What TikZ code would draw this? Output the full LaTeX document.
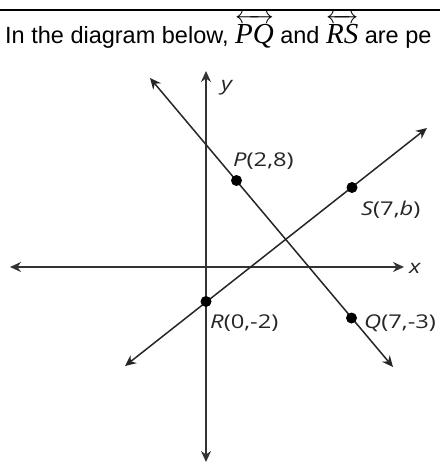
\documentclass[tikz,border=0pt]{standalone}
\usepackage{amsmath}
\usepackage{fontspec}
\usepackage{tikz}
\usetikzlibrary{arrows.meta, positioning, calc}
\newfontfamily\headfont{Liberation Sans}
\newfontfamily\serifit{Liberation Serif}
\newfontfamily\lblfont[FakeStretch=1.25]{Open Sans}
\newcommand{\lineof}[1]{$\overleftrightarrow{\text{\serifit\itshape\fontsize{29}{30}\selectfont #1}}$}

\begin{document}
\begin{tikzpicture}[x=1pt, y=-1pt,
  axisline/.style={draw=black!80, line width=1.7pt, {Stealth[length=11pt, width=10pt]}-{Stealth[length=11pt, width=10pt]}},
  ptline/.style={draw=black!85, line width=1.5pt, {Stealth[length=11pt, width=10pt]}-{Stealth[length=11pt, width=10pt]}},
  dot/.style={circle, fill=black, inner sep=0pt, minimum size=11pt},
  lbl/.style={font=\lblfont\fontsize{19}{22}\selectfont, text=black!85, inner sep=0pt}]
  \useasboundingbox (0,0) rectangle (440,466);
  \clip (0,0) rectangle (440,466);
  % Header rule and question text
  \coordinate (H1) at (0,10);
  \coordinate (H2) at (440,10);
  \draw[line width=1.5pt] (H1) -- (H2);
  \node[anchor=base west, inner sep=0pt, font=\headfont\fontsize{23.5}{28}\selectfont] (head) at (5,43)
    {In the diagram below, \lineof{PQ} and \lineof{RS} are pe};
  % Axes
  \coordinate (O) at (206,267);
  \coordinate (Xl) at (10,267);
  \coordinate (Xr) at (404,267);
  \coordinate (Yt) at (206,71);
  \coordinate (Yb) at (206,462);
  \draw[axisline] (Xl) -- (Xr);
  \draw[axisline] (Yb) -- (Yt);
  \node[lbl, anchor=base west] (xlbl) at (409,273) {\itshape x};
  \node[lbl, anchor=base west] (ylbl) at (221,90) {\itshape y};
  % Lines PQ and RS
  \coordinate (PQa) at (150,78);
  \coordinate (PQb) at (393,367);
  \coordinate (RSa) at (125,366);
  \coordinate (RSb) at (427,128);
  \draw[ptline] (PQa) -- (PQb);
  \draw[ptline] (RSa) -- (RSb);
  % Points
  \node[dot] (P) at (236.5,180.5) {};
  \node[dot] (S) at (352,187.5) {};
  \node[dot] (R) at (206,301.5) {};
  \node[dot] (Q) at (351.5,318) {};
  % Labels
  \node[lbl, anchor=base west] (Plbl) at (233,166) {\itshape P\upshape(2,8)};
  \node[lbl, anchor=base west] (Slbl) at (361,215) {\itshape S\upshape(7,\itshape b\upshape)};
  \node[lbl, anchor=base west] (Rlbl) at (210,328) {\itshape R\upshape(0,-2)};
  \node[lbl, anchor=base west] (Qlbl) at (364,328) {\itshape Q\upshape(7,-3)};
\end{tikzpicture}
\end{document}
